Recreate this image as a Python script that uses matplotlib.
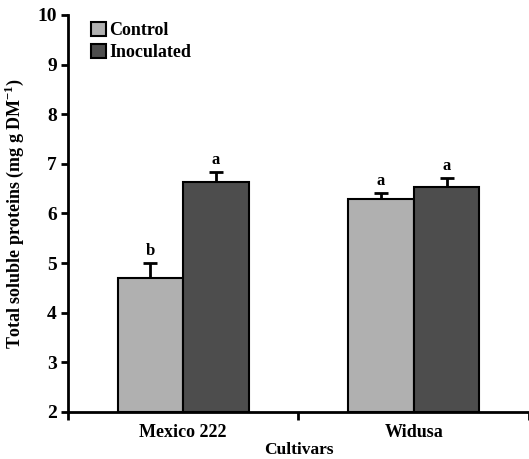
import numpy as np
import matplotlib
matplotlib.use("Agg")
import matplotlib.pyplot as plt
from matplotlib.patches import Patch

plt.rcParams['font.family'] = ['Liberation Serif', 'DejaVu Serif']
plt.rcParams['font.weight'] = 'bold'
plt.rcParams['axes.labelweight'] = 'bold'
plt.rcParams['mathtext.fontset'] = 'custom'
plt.rcParams['mathtext.rm'] = 'Liberation Serif:bold'

cultivars = ['Mexico 222', 'Widusa']
control = [4.70, 6.30]
control_err = [0.30, 0.12]
inoculated = [6.64, 6.53]
inoculated_err = [0.20, 0.18]
control_letters = ['b', 'a']
inoculated_letters = ['a', 'a']

fig = plt.figure(figsize=(5.29, 4.59), dpi=100)
ax = fig.add_axes([0.1285, 0.1024, 0.8715, 0.865])

x = np.arange(len(cultivars)) + 0.5
w = 0.285

ax.bar(x - w/2, np.array(control) - 2, w, bottom=2, color='#b0b0b0',
       edgecolor='black', linewidth=1.5, label='Control', zorder=2)
ax.bar(x + w/2, np.array(inoculated) - 2, w, bottom=2, color='#4d4d4d',
       edgecolor='black', linewidth=1.5, label='Inoculated', zorder=2)

# error bars, upward only
ax.errorbar(x - w/2, control, yerr=[np.zeros(2), control_err], fmt='none',
            ecolor='black', elinewidth=2, capsize=5, capthick=2, zorder=1)
ax.errorbar(x + w/2, inoculated, yerr=[np.zeros(2), inoculated_err], fmt='none',
            ecolor='black', elinewidth=2, capsize=5, capthick=2, zorder=1)

for xi, v, e, t in zip(x - w/2, control, control_err, control_letters):
    ax.text(xi, v + e + 0.08, t, ha='center', va='bottom', fontsize=12)
for xi, v, e, t in zip(x + w/2, inoculated, inoculated_err, inoculated_letters):
    ax.text(xi, v + e + 0.08, t, ha='center', va='bottom', fontsize=12)

ax.set_xlim(0, 1.96)
ax.set_ylim(2, 10)
ax.set_yticks(range(2, 11))
ax.set_xticks([0, 1, 2])
ax.set_xticklabels([])
ax.set_xticks(x, minor=True)
ax.set_xticklabels(cultivars, minor=True, fontsize=13)
ax.tick_params(axis='x', which='minor', length=0, pad=9)
ax.tick_params(axis='x', which='major', length=6, width=2, direction='out')
ax.tick_params(axis='y', length=5, width=2, direction='out', labelsize=14, pad=3)

for s in ['top', 'right']:
    ax.spines[s].set_visible(False)
for s in ['left', 'bottom']:
    ax.spines[s].set_linewidth(2)

ax.set_xlabel('Cultivars', fontsize=12.5, labelpad=0.5)
ax.set_ylabel('Total soluble proteins (mg g DM$^{-1}$)', fontsize=13, labelpad=8)

handles = [Patch(facecolor='#b0b0b0', edgecolor='black', linewidth=1.5, label='Control'),
           Patch(facecolor='#4d4d4d', edgecolor='black', linewidth=1.5, label='Inoculated')]
ax.legend(handles=handles, loc='upper left', bbox_to_anchor=(0.035, 1.0), frameon=False,
          fontsize=13, handlelength=0.8, handleheight=0.8, handletextpad=0.2,
          labelspacing=0.25, borderaxespad=0)

fig.savefig('out.png', dpi=100)
